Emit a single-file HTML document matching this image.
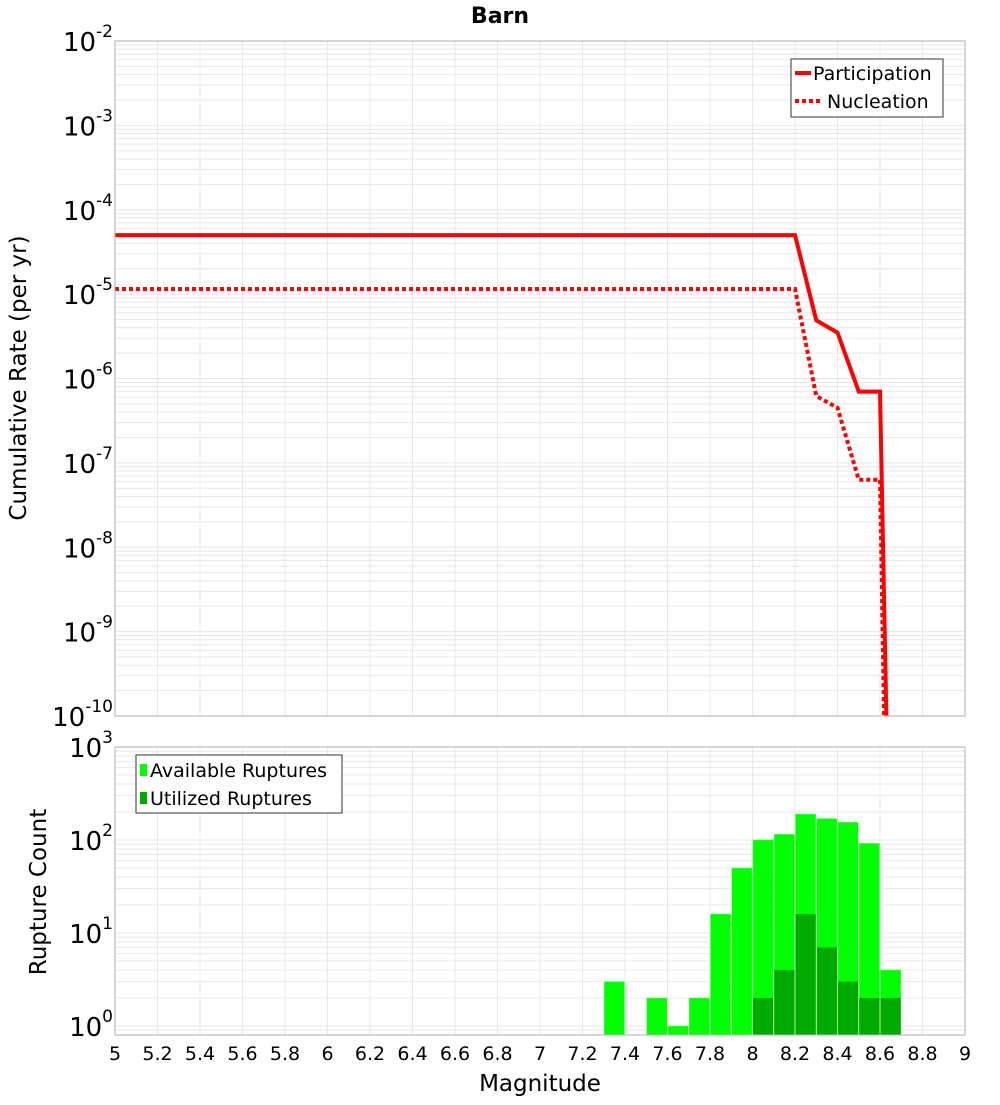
<!DOCTYPE html>
<html><head><meta charset="utf-8"><style>
body{margin:0;background:#fff}
svg text{font-family:"DejaVu Sans","Liberation Sans",sans-serif}
</style></head><body>
<svg id="c" width="1000" height="1100" xmlns="http://www.w3.org/2000/svg"></svg>
<script>
const magTicks=[5,5.2,5.4,5.6,5.8,6,6.2,6.4,6.6,6.8,7,7.2,7.4,7.6,7.8,8,8.2,8.4,8.6,8.8,9];
const partMag=[5,8.2,8.3,8.4,8.5,8.6,8.65];
const partRate=[5e-5,5e-5,4.9e-6,3.5e-6,7e-7,7e-7,2.7e-13];
const nuclMag=[5,8.2,8.3,8.4,8.5,8.6,8.64];
const nuclRate=[1.15e-5,1.15e-5,6.2e-7,4.5e-7,6.3e-8,6.3e-8,1e-13];
const binMag=[7.35,7.55,7.65,7.75,7.85,7.95,8.05,8.15,8.25,8.35,8.45,8.55,8.65];
const availCount=[3,2,1,2,16,50,100,115,190,170,155,92,4];
const utilMag=[8.05,8.15,8.25,8.35,8.45,8.55,8.65];
const utilCount=[2,4,16,7,3,2,2];
const topDecades=[-10,-9,-8,-7,-6,-5,-4,-3,-2];
const botDecades=[0,1,2,3];

const NS="http://www.w3.org/2000/svg";
const svg=document.getElementById('c');
function mk(t,a,p){const e=document.createElementNS(NS,t);for(const k in a)e.setAttribute(k,a[k]);(p||svg).appendChild(e);return e;}
const L=115,R=965;
const X=m=>L+(m-5)/4*(R-L);
const T0=41,T1=716,B0=747,B1=1035;
const YT=v=>T0+(-2-Math.log10(v))/8*(T1-T0);
const bMin=-0.097,bMax=3;
const YB=v=>B0+(bMax-Math.log10(v))/(bMax-bMin)*(B1-B0);

function grid(y0,y1,yf,dmin,dmax){
  const g=mk('g',{});
  
  
  for(let d=Math.floor(dmin);d<dmax;d++)for(let k=1;k<10;k++){const v=k*Math.pow(10,d);const y=yf(v);if(y<y0-0.5||y>y1+0.5)continue;mk('line',{x1:L,x2:R,y1:y,y2:y,stroke:'#e8e8e8','stroke-width':1},g);}
  magTicks.forEach(m=>{const x=X(m);mk('line',{x1:x,x2:x,y1:y0,y2:y1,stroke:'#e8e8e8','stroke-width':1},g);});
}
grid(T0,T1,YT,-10,-2);
grid(B0,B1,YB,-1,3);

const title=mk('text',{x:500,y:23,'text-anchor':'middle','font-size':22,'font-weight':'bold'});title.textContent='Barn';


function ylab(y,d){const t=mk('text',{x:113,y:y+10,'text-anchor':'end','font-size':26});
 
 t.innerHTML='10<tspan dy="-14" font-size="17">'+d+'</tspan>';}
topDecades.forEach(d=>ylab(YT(Math.pow(10,d)),d));
botDecades.forEach(d=>ylab(YB(Math.pow(10,d)),d));

const defs=mk('defs',{});
const cp=mk('clipPath',{id:'ct'},defs);mk('rect',{x:L,y:T0,width:R-L,height:T1-T0},cp);

function poly(ms,vs,attrs,name){const p=mk('polyline',Object.assign({points:ms.map((m,i)=>X(m)+','+YT(vs[i])).join(' '),fill:'none','clip-path':'url(#ct)'},attrs));
 }
poly(nuclMag,nuclRate,{stroke:'#ff0000','stroke-width':4,'stroke-dasharray':'4,3'},'nucleation-line');
poly(partMag,partRate,{stroke:'#ff0000','stroke-width':4},'participation-line');

const bw=(X(5.1)-X(5));
binMag.forEach((m,i)=>{const y=YB(availCount[i]);const r=mk('rect',{x:X(m)-bw/2+0.5,y:y,width:bw-1,height:B1-y,fill:'#00ff00',stroke:'#5fff5f','stroke-width':0.5});
 });
utilMag.forEach((m,i)=>{const y=YB(utilCount[i]);const r=mk('rect',{x:X(m)-bw/2+0.5,y:y,width:bw-1,height:B1-y,fill:'#00aa00'});
 });

[[T0,T1,'top-plot-frame'],[B0,B1,'bottom-plot-frame']].forEach(f=>{const r=mk('rect',{x:L,y:f[0],width:R-L,height:f[1]-f[0],fill:'none',stroke:'#b0b0b0','stroke-width':1});
 });

magTicks.forEach(m=>{const t=mk('text',{x:X(m),y:1060,'text-anchor':'middle','font-size':19});t.textContent=String(m);
 });
const xt=mk('text',{x:540,y:1091,'text-anchor':'middle','font-size':23});xt.textContent='Magnitude';

const yt1=mk('text',{x:0,y:0,'text-anchor':'middle','font-size':23,transform:'translate(26,378) rotate(-90)'});yt1.textContent='Cumulative Rate (per yr)';

const yt2=mk('text',{x:0,y:0,'text-anchor':'middle','font-size':23,transform:'translate(46,892) rotate(-90)'});yt2.textContent='Rupture Count';


const lg1=mk('g',{});
mk('rect',{x:791,y:59,width:152,height:58,fill:'#fff',stroke:'#333','stroke-width':1},lg1);
mk('line',{x1:795,x2:811,y1:73,y2:73,stroke:'#f00','stroke-width':4},lg1);
mk('line',{x1:795,x2:823,y1:101,y2:101,stroke:'#f00','stroke-width':4,'stroke-dasharray':'4,3'},lg1);
let t=mk('text',{x:813,y:80,'font-size':19},lg1);t.textContent='Participation';

t=mk('text',{x:827,y:108,'font-size':19},lg1);t.textContent='Nucleation';

const lg2=mk('g',{});
mk('rect',{x:136,y:755,width:206,height:58,fill:'#fff',stroke:'#333','stroke-width':1},lg2);
mk('rect',{x:140,y:764,width:7,height:12,fill:'#00ff00'},lg2);
mk('rect',{x:140,y:792,width:7,height:12,fill:'#00aa00'},lg2);
t=mk('text',{x:150,y:777,'font-size':19},lg2);t.textContent='Available Ruptures';

t=mk('text',{x:150,y:805,'font-size':19},lg2);t.textContent='Utilized Ruptures';

</script>
</body></html>
